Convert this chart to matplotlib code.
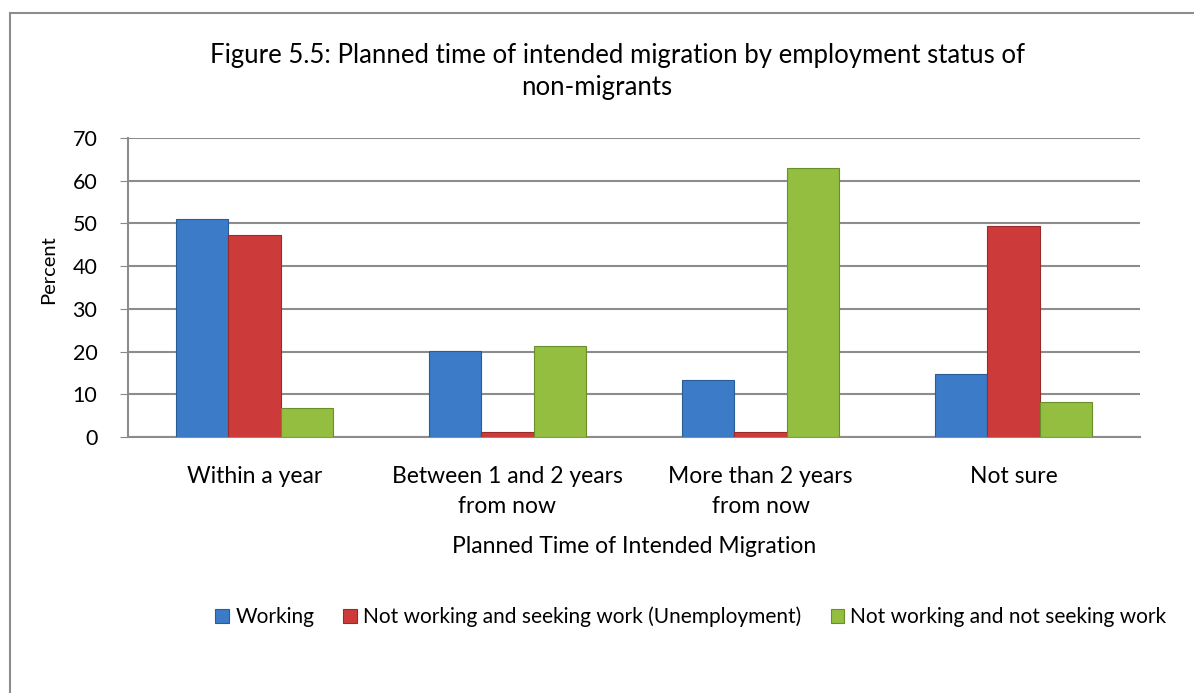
import matplotlib
matplotlib.use("Agg")
import matplotlib.pyplot as plt
import numpy as np
from matplotlib.patches import Rectangle

plt.rcParams['font.family'] = ['Lato', 'DejaVu Sans']

categories = ["Within a year", "Between 1 and 2 years\nfrom now",
              "More than 2 years\nfrom now", "Not sure"]
series_names = ["Working", "Not working and seeking work (Unemployment)",
                "Not working and not seeking work"]
working = [51.0, 20.1, 13.3, 14.8]
unemployed = [47.4, 1.2, 1.2, 49.5]
not_seeking = [6.7, 21.2, 62.9, 8.1]
yticks = [0, 10, 20, 30, 40, 50, 60, 70]

colors = ["#3B7BC8", "#CC3B39", "#93BE3F"]
edges = ["#2A5C98", "#992A28", "#6A8E2A"]

fig = plt.figure(figsize=(11.94, 6.93), dpi=100)
ax = fig.add_axes([128/1194, 1-437/693, (1140-128)/1194, (437-138)/693])

x = np.arange(len(categories))
w = 0.207
for i, vals in enumerate([working, unemployed, not_seeking]):
    ax.bar(x + (i-1)*w, vals, width=w, color=colors[i], edgecolor=edges[i],
           linewidth=0.8, label=series_names[i], zorder=3)

ax.set_xlim(-0.5, 3.5)
ax.set_ylim(0, 70)
ax.set_yticks(yticks)
ax.set_yticklabels([str(v) for v in yticks], fontsize=15.5)
ax.set_xticks(x)
ax.set_xticklabels(categories, fontsize=16.5, linespacing=1.5)
ax.tick_params(axis='x', length=0, pad=21)
ax.tick_params(axis='y', length=6, color='#888888', direction='out', pad=16)
ax.grid(axis='y', color='#8C8C8C', linewidth=1.5, zorder=0)
for s in ['top', 'right']:
    ax.spines[s].set_visible(False)
ax.spines['left'].set_color('#8C8C8C')
ax.spines['bottom'].set_color('#8C8C8C')
ax.spines['left'].set_linewidth(1.5)
ax.spines['bottom'].set_linewidth(1.5)

ax.set_ylabel("Percent", fontsize=14.5)
ax.yaxis.set_label_coords(-0.070, 0.56)
ax.set_xlabel("Planned Time of Intended Migration", fontsize=16.5, labelpad=14)

fig.text(617/1194, 1-55/693, "Figure 5.5: Planned time of intended migration by employment status of",
         ha='center', va='center', fontsize=18.5)
fig.text(597/1194, 1-88/693, "non-migrants",
         ha='center', va='center', fontsize=18.5)

fig.legend(loc='center', bbox_to_anchor=(691/1194, 1-617/693), ncol=3, frameon=False,
           fontsize=15, handlelength=0.65, handleheight=0.65, handletextpad=0.3,
           columnspacing=1.4)

fig.patches.append(Rectangle((10/1194, -0.01), 1.2, (693-13)/693+0.01,
                             transform=fig.transFigure, fill=False,
                             edgecolor='#8C8C8C', linewidth=1.5))

fig.savefig("out.png", dpi=100)
